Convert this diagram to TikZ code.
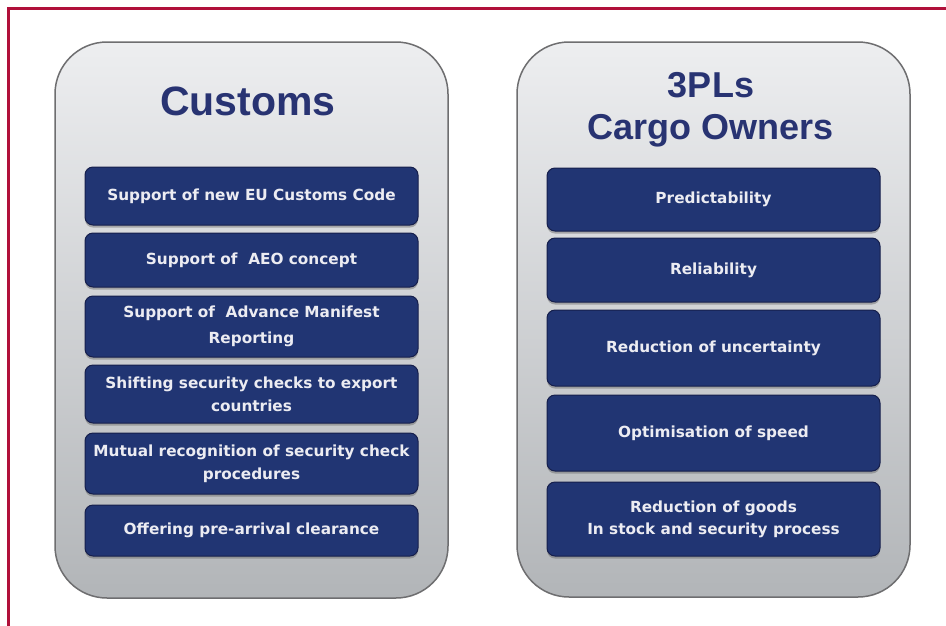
\documentclass[tikz,border=0pt]{standalone}
\usepackage{fontspec}
\setmainfont{Liberation Sans}
\newfontfamily\boxfont{DejaVu Sans}
\usetikzlibrary{shadows}
\definecolor{frame}{HTML}{B0103A}
\definecolor{navy}{HTML}{213573}
\definecolor{navyedge}{HTML}{161F4C}
\definecolor{titlecol}{HTML}{283372}
\definecolor{paneltop}{HTML}{EDEEF0}
\definecolor{panelbot}{HTML}{B2B5B8}
\definecolor{paneledge}{HTML}{6E6E70}
\definecolor{boxtext}{HTML}{ECECF2}
\tikzset{
  panel/.style={draw=paneledge, line width=1.5pt, rounded corners=52pt,
    top color=paneltop, bottom color=panelbot, inner sep=0pt},
  item/.style={draw=navyedge, line width=1pt, fill=navy, rounded corners=8pt,
    minimum width=333pt, inner sep=0pt, align=center, text=boxtext,
    font=\boxfont\bfseries\fontsize{15.3}{23}\selectfont,
    drop shadow={shadow xshift=0pt, shadow yshift=-2.5pt, opacity=0.45, fill=black!60}},
  title/.style={text=titlecol, align=center, inner sep=0pt, font=\bfseries}
}
\begin{document}
\begin{tikzpicture}[x=1pt, y=-1pt]
\useasboundingbox (0,0) rectangle (946,625);
\fill[white] (0,0) rectangle (946,625);
% red frame
\coordinate (fc) at (8,8);
\coordinate (fr) at (950,8);
\coordinate (fb) at (8,630);
\draw[frame, line width=3pt] (fb) -- (fc) -- (fr);
% panels
\node[panel, minimum width=393pt, minimum height=556pt] (pl) at (251.5,320) {};
\node[panel, minimum width=393pt, minimum height=555pt] (pr) at (713.5,319.5) {};
% titles
\node[title, font=\bfseries\fontsize{41}{44}\selectfont] (tl) at (248,101) {Customs};
\node[title, font=\bfseries\fontsize{36}{42}\selectfont] (tr) at (711,110) {3PLs\\Cargo Owners};
% left items
\node[item, minimum height=58pt] (l1) at (251.5,196) {Support of new EU Customs Code};
\node[item, minimum height=54pt] (l2) at (251.5,260) {Support of\ \ AEO concept};
\node[item, minimum height=61pt, font=\boxfont\bfseries\fontsize{15.3}{26}\selectfont] (l3) at (251.5,326.5) {Support of\ \ Advance Manifest\\Reporting};
\node[item, minimum height=58pt] (l4) at (251.5,394) {Shifting security checks to export\\countries};
\node[item, minimum height=61pt] (l5) at (251.5,463.5) {Mutual recognition of security check\\procedures};
\node[item, minimum height=51pt] (l6) at (251.5,530.5) {Offering pre-arrival clearance};
% right items
\node[item, minimum height=63pt] (r1) at (713.5,199.5) {Predictability};
\node[item, minimum height=64pt] (r2) at (713.5,270) {Reliability};
\node[item, minimum height=76pt] (r3) at (713.5,348) {Reduction of uncertainty};
\node[item, minimum height=76pt] (r4) at (713.5,433) {Optimisation of speed};
\node[item, minimum height=74pt, font=\boxfont\bfseries\fontsize{15.3}{22}\selectfont] (r5) at (713.5,519) {Reduction of goods\\In stock and security process};
\end{tikzpicture}
\end{document}
